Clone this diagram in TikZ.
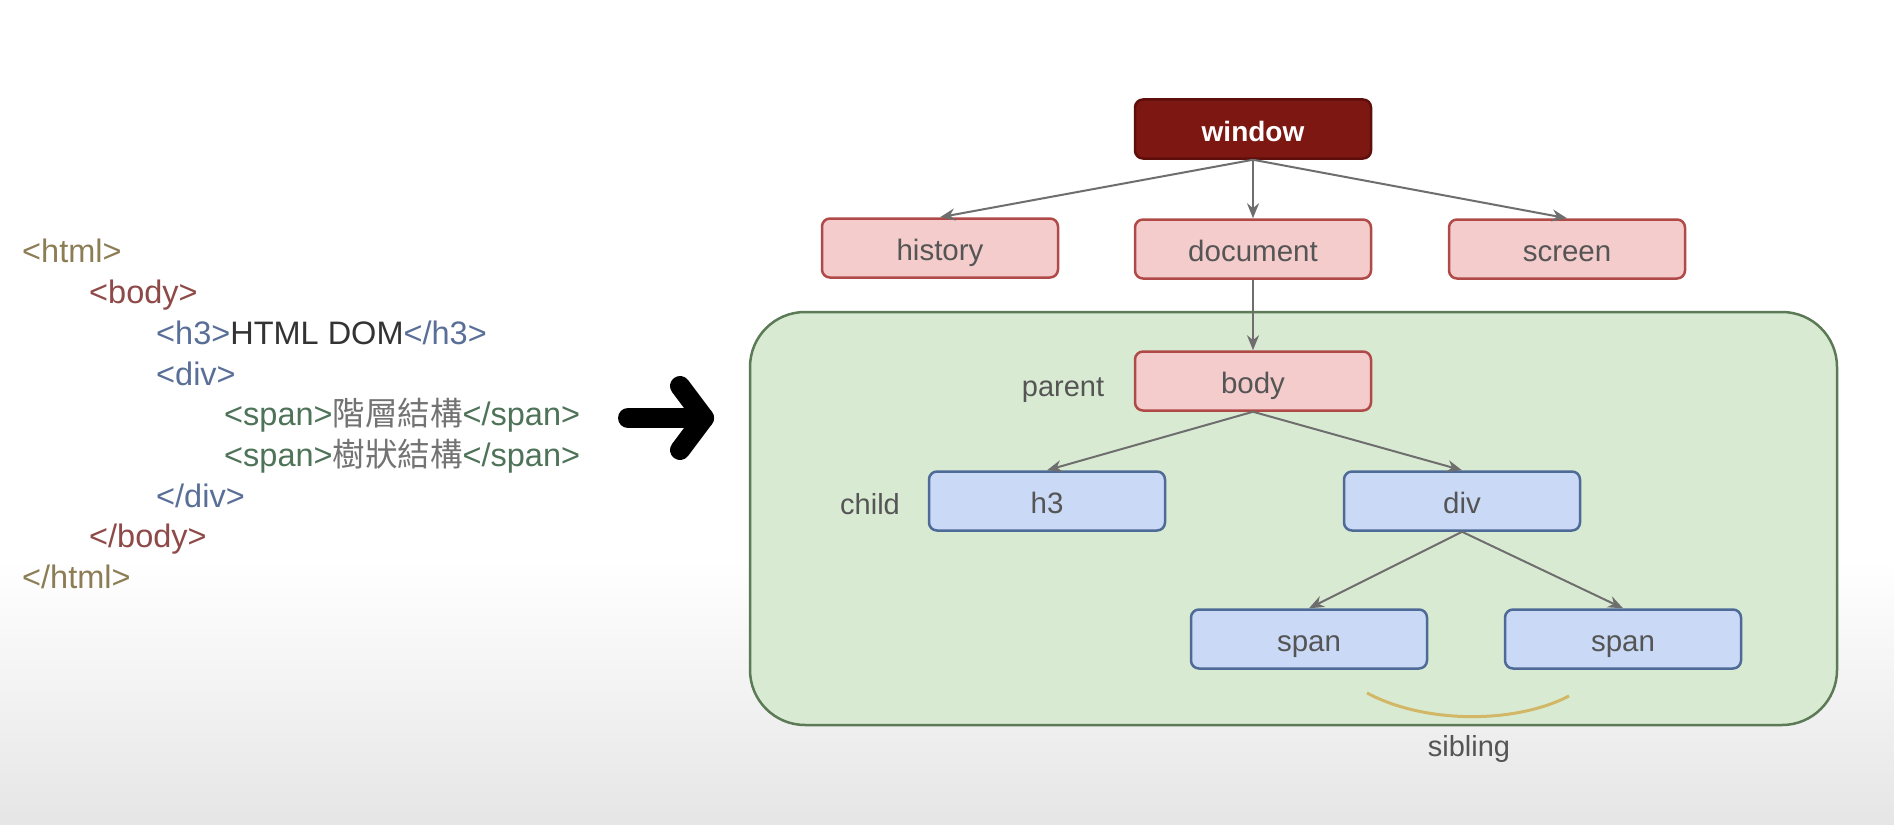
\documentclass[tikz,border=0pt]{standalone}
\usepackage{fontspec}
\setmainfont{Liberation Sans}
\newfontfamily\cjkfont{Noto Sans CJK TC}
\usetikzlibrary{arrows.meta}
\definecolor{tagHtml}{HTML}{8C7D55}
\definecolor{tagBody}{HTML}{8E4A48}
\definecolor{tagBlue}{HTML}{5A6F98}
\definecolor{tagGreen}{HTML}{4E7358}
\definecolor{pinkFill}{HTML}{F4CCCC}
\definecolor{pinkLine}{HTML}{B04A48}
\definecolor{winFill}{HTML}{7D1712}
\definecolor{winLine}{HTML}{5E0F0C}
\definecolor{blueFill}{HTML}{CADAF6}
\definecolor{blueLine}{HTML}{4E6A96}
\definecolor{greenFill}{HTML}{D9EAD3}
\definecolor{greenLine}{HTML}{5C7A55}
\definecolor{edgeGray}{HTML}{6E6E6E}
\definecolor{labelGray}{HTML}{555555}
\definecolor{arcGold}{HTML}{D2B866}
\tikzset{
  box/.style={rectangle, rounded corners=8pt, minimum width=236pt, minimum height=59pt,
    inner sep=0pt, line width=2.5pt, font=\fontsize{29.5}{34}\selectfont, text=labelGray,
    text height=27pt, text depth=2pt},
  pinkbox/.style={box, draw=pinkLine, fill=pinkFill},
  bluebox/.style={box, draw=blueLine, fill=blueFill},
  winbox/.style={box, draw=winLine, fill=winFill, text=white, font=\fontsize{28}{34}\selectfont\bfseries},
  edge/.style={draw=edgeGray, line width=2pt, -{Stealth[length=15pt,width=12pt]}},
  tag/.style={anchor=west, inner sep=0pt, font=\fontsize{32.5}{38}\selectfont,
    text height=26pt, text depth=3pt},
  side/.style={font=\fontsize{29}{34}\selectfont, text=labelGray, inner sep=0pt,
    text height=27pt, text depth=2pt},
}
\begin{document}
\begin{tikzpicture}[x=1pt, y=-1pt]
  \useasboundingbox (0,0) rectangle (1894,824);
  % page background with a soft grey fade at the bottom
  \fill[white] (0,0) rectangle (1894,824);
  \shade[top color=white, bottom color=black!10] (0,560) rectangle (1894,824);

  % source markup
  \node[tag, text=tagHtml] (l1) at (22,251) {<html>};
  \node[tag, text=tagBody] (l2) at (89,292) {<body>};
  \node[tag] (l3) at (156,333) {\textcolor{tagBlue}{<h3>}\textcolor{black!80}{HTML DOM}\textcolor{tagBlue}{</h3>}};
  \node[tag, text=tagBlue] (l4) at (156,374) {<div>};
  \node[tag] (l5) at (224,414) {\textcolor{tagGreen}{<span>}\textcolor{black!55}{\cjkfont 階層結構}\textcolor{tagGreen}{</span>}};
  \node[tag] (l6) at (224,455) {\textcolor{tagGreen}{<span>}\textcolor{black!55}{\cjkfont 樹狀結構}\textcolor{tagGreen}{</span>}};
  \node[tag, text=tagBlue] (l7) at (156,496) {</div>};
  \node[tag, text=tagBody] (l8) at (89,536) {</body>};
  \node[tag, text=tagHtml] (l9) at (22,577) {</html>};

  % big arrow between markup and tree
  \coordinate (bigA) at (628,418);
  \coordinate (bigB) at (704,418);
  \coordinate (bigU) at (680,386);
  \coordinate (bigD) at (680,450);
  \draw[black, line width=20pt, line cap=round, line join=round] (bigA) -- (bigB);
  \draw[black, line width=20pt, line cap=round, line join=round] (bigU) -- (bigB) -- (bigD);

  % document area
  \node[draw=greenLine, fill=greenFill, line width=2.5pt, rounded corners=55pt,
        minimum width=1087pt, minimum height=413pt, inner sep=0pt] (area) at (1293.5,518.5) {};

  % tree nodes
  \node[winbox] (window) at (1253,129) {window};
  \node[pinkbox] (history) at (940,248) {history};
  \node[pinkbox] (document) at (1253,249) {document};
  \node[pinkbox] (screen) at (1567,249) {screen};
  \node[pinkbox] (body) at (1253,381) {body};
  \node[bluebox] (h3) at (1047,501) {h3};
  \node[bluebox] (div) at (1462,501) {div};
  \node[bluebox] (span1) at (1309,639) {span};
  \node[bluebox] (span2) at (1623,639) {span};

  \node[side] (parent) at (1063,384) {parent};
  \node[side] (child) at (870,502) {child};

  % connectors
  \draw[edge] (window.south) -- (history.north);
  \draw[edge] (window.south) -- (document.north);
  \draw[edge] (window.south) -- (screen.north);
  \draw[edge] (document.south) -- (body.north);
  \draw[edge] (body.south) -- (h3.north);
  \draw[edge] (body.south) -- (div.north);
  \draw[edge] (div.south) -- (span1.north);
  \draw[edge] (div.south) -- (span2.north);

  % sibling marker
  \coordinate (arcL) at (1367,693);
  \coordinate (arcR) at (1569,696);
  \draw[arcGold, line width=3pt] (arcL) .. controls (1425,724) and (1515,724) .. (arcR);
  \node[side] (sibling) at (1469,744) {sibling};
\end{tikzpicture}
\end{document}
